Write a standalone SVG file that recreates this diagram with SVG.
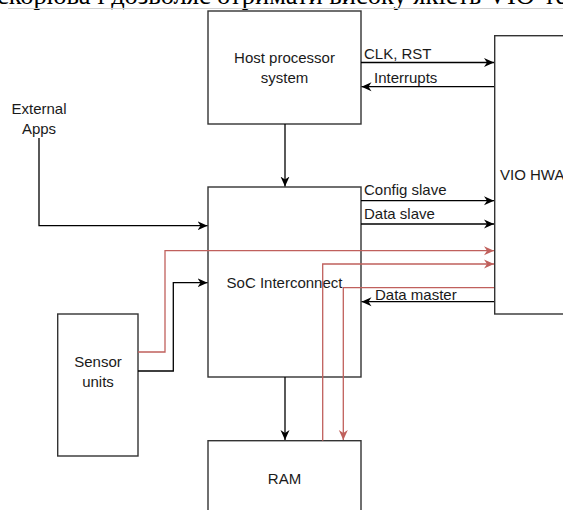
<svg xmlns="http://www.w3.org/2000/svg" width="563" height="510" viewBox="0 0 563 510">
<defs>
<style>
.box{fill:#fff;stroke:#333;stroke-width:1.4}
.lbl{font-family:"Liberation Sans",Arial,sans-serif;font-size:15px;fill:#1a1a1a}
.c{text-anchor:middle}
.k{fill:none;stroke:#000;stroke-width:1.3}
.r{fill:none;stroke:#c0605c;stroke-width:1.3}
</style>
<marker id="ak" markerUnits="userSpaceOnUse" markerWidth="12" markerHeight="10" refX="10" refY="5" orient="auto">
<path d="M0,0.5 L10,5 L0,9.5 L3,5 Z" fill="#000"/>
</marker>
<marker id="ar" markerUnits="userSpaceOnUse" markerWidth="12" markerHeight="10" refX="10" refY="5" orient="auto">
<path d="M0,0.5 L10,5 L0,9.5 L3,5 Z" fill="#c0605c"/>
</marker>
</defs>
<rect width="563" height="510" fill="#fff"/>
<text x="-3" y="3.5" font-family="'Liberation Serif','Times New Roman',serif" font-size="26.5" fill="#000">скорюва і дозволяє отримати високу якість VIO-те</text>
<line x1="8" y1="8.5" x2="563" y2="8.5" stroke="#d0d0d0" stroke-width="1"/>
<g id="host"><rect class="box" x="208" y="11" width="153" height="113"/><text class="lbl c" x="284.5" y="63">Host processor</text><text class="lbl c" x="284.5" y="83">system</text></g>
<g id="vio"><rect class="box" x="494.7" y="35.7" width="80" height="278.3"/><text class="lbl" x="500" y="180">VIO HWA</text></g>
<g id="soc"><rect class="box" x="208" y="187" width="153" height="190"/><text class="lbl c" x="284.5" y="288">SoC Interconnect</text></g>
<g id="sensor"><rect class="box" x="57.7" y="314" width="80.3" height="142"/><text class="lbl c" x="98" y="367">Sensor</text><text class="lbl c" x="98" y="387">units</text></g>
<g id="ram"><rect class="box" x="208" y="440.7" width="153" height="80"/><text class="lbl c" x="284.5" y="484">RAM</text></g>
<g id="ext"><text class="lbl c" x="39" y="114">External</text><text class="lbl c" x="39" y="134">Apps</text></g>
<g id="connectors">
<path class="k" d="M361,62.5 H494" marker-end="url(#ak)"/>
<path class="k" d="M494,86.7 H361.5" marker-end="url(#ak)"/>
<path class="k" d="M285,124 V186.5" marker-end="url(#ak)"/>
<path class="k" d="M39,138 V225.7 H207.5" marker-end="url(#ak)"/>
<path class="k" d="M361,200.7 H494" marker-end="url(#ak)"/>
<path class="k" d="M361,224 H494" marker-end="url(#ak)"/>
<path class="k" d="M494,301.7 H361.5" marker-end="url(#ak)"/>
<path class="k" d="M138,371 H173.3 V282.7 H207.5" marker-end="url(#ak)"/>
<path class="k" d="M285,377 V440" marker-end="url(#ak)"/>
<path class="r" d="M138,352 H165 V250.7 H494" marker-end="url(#ar)"/>
<path class="r" d="M322.7,440.7 V264 H494" marker-end="url(#ar)"/>
<path class="r" d="M494,287.7 H343.3 V440" marker-end="url(#ar)"/>
<text class="lbl" x="364" y="59">CLK, RST</text>
<text class="lbl" x="374" y="83">Interrupts</text>
<text class="lbl" x="364" y="195">Config slave</text>
<text class="lbl" x="364" y="219">Data slave</text>
<text class="lbl" x="375" y="300">Data master</text>
</g>
</svg>
